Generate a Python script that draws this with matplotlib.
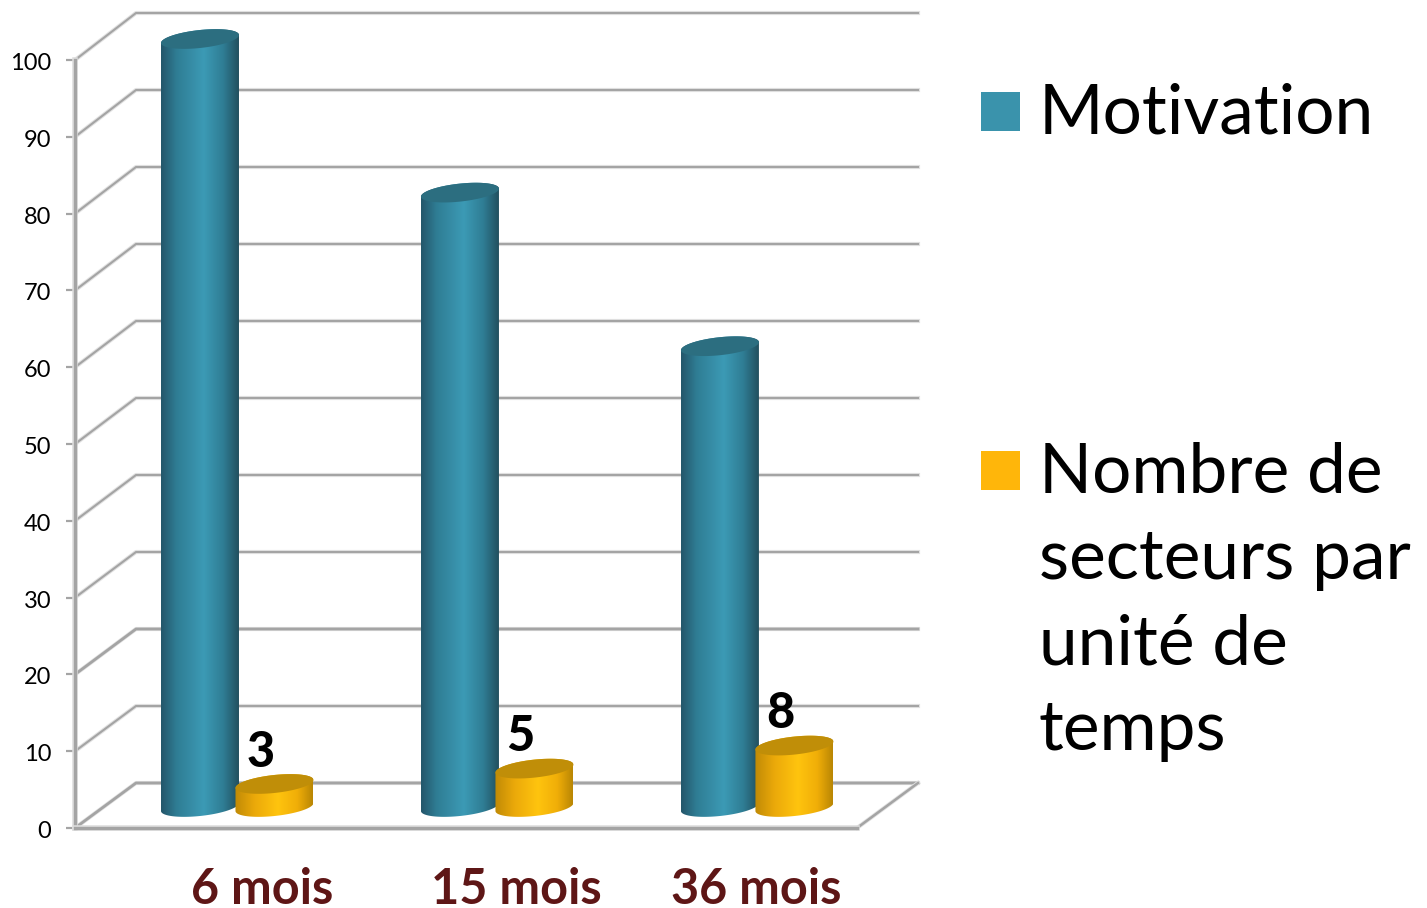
import numpy as np
import matplotlib
matplotlib.use("Agg")
import matplotlib.pyplot as plt
import matplotlib.patheffects as pe
from matplotlib.colors import LinearSegmentedColormap
from matplotlib.patches import Polygon, Rectangle
from matplotlib.transforms import ScaledTranslation

categories = ["6 mois", "15 mois", "36 mois"]
motivation = [100, 80, 60]
secteurs = [3, 5, 8]
y_ticks = [0, 10, 20, 30, 40, 50, 60, 70, 80, 90, 100]
legend_labels = ["Motivation", "Nombre de\nsecteurs par\nunité de\ntemps"]

W, H = 1427, 908
GRID = "#a4a4a4"
MAROON = "#5e1616"
PX_X = 1 / 260   # one category is 260 px wide
PX_Y = 100 / 768  # value 100 is 768 px high

plt.rcParams["font.family"] = ["Lato", "DejaVu Sans"]

fig = plt.figure(figsize=(W / 100, H / 100), dpi=100)
ax = fig.add_axes([75 / W, 1 - 828 / H, 782 / W, 768 / H])
ax.patch.set_visible(False)

# 3d look: depth of the floor, in data units
depth_x = 61 * PX_X
depth_y = 45 * PX_Y
lift = 21 * PX_Y
half_w = 39 * PX_X
half_h = 9 * PX_Y
tilt = 4 * PX_Y
halo = [pe.withStroke(linewidth=3, foreground="#e2e2e2")]

teal_map = LinearSegmentedColormap.from_list("teal", [(0, "#24566a"), (0.2, "#2f7d94"), (0.55, "#3c9ab5"), (0.8, "#2f7d94"), (1, "#22505f")])
gold_map = LinearSegmentedColormap.from_list("gold", [(0, "#c08a06"), (0.25, "#eba90a"), (0.55, "#ffc40e"), (0.8, "#f0ae08"), (1, "#b98604")])


def ellipse(cx, cy, t):
    return np.column_stack([cx + half_w * np.cos(t), cy + half_h * np.sin(t) + tilt * np.cos(t)])


def cylinder(cx, value, cmap, top_color, z):
    y0 = lift
    y1 = value + lift
    low = ellipse(cx, y0, np.linspace(np.pi, 2 * np.pi, 60))
    high = ellipse(cx, y1, np.linspace(0, np.pi, 60))
    body = Polygon(np.vstack([low, high]), closed=True, fc="none", ec="none", clip_on=False, zorder=z)
    ax.add_patch(body)
    grad = np.linspace(0, 1, 256).reshape(1, -1)
    im = ax.imshow(grad, extent=[cx - half_w, cx + half_w, y0 - 4, y1 + 4], aspect="auto", cmap=cmap, zorder=z, interpolation="bilinear")
    im.set_clip_box(fig.bbox)
    im.set_clip_path(body)
    cap = ellipse(cx, y1, np.linspace(0, 2 * np.pi, 120))
    ax.add_patch(Polygon(cap, closed=True, fc=top_color, ec="none", clip_on=False, zorder=z + 0.5))


# back wall and side wall lines
for v in y_ticks:
    lw = 2.0 if v in (0, 20) else 1.5
    back = v * 770 / 768 + depth_y
    ax.plot([0, depth_x, 3.008 + depth_x], [v, back, back], color=GRID, lw=lw, clip_on=False, zorder=1, path_effects=halo)
ax.plot([3.008, 3.008 + depth_x], [0, depth_y], color=GRID, lw=1.8, clip_on=False, zorder=1, path_effects=halo)

for i in range(len(categories)):
    group = i + 0.5 + depth_x / 2 + 1 * PX_X
    cylinder(group - half_w + 2.5 * PX_X, motivation[i], teal_map, "#2c6e80", 3)
    cylinder(group + half_w - 1 * PX_X, secteurs[i], gold_map, "#c08e08", 4)
    ax.annotate(str(secteurs[i]), (group + half_w, secteurs[i] + lift), xytext=(-11, 23), textcoords="offset points",
                ha="center", va="center", fontsize=35, fontweight="black", color="black", annotation_clip=False, zorder=6)

ax.set_xlim(0, 3.008)
ax.set_ylim(0, 100)
ax.set_yticks(y_ticks)
ax.tick_params(axis="y", length=6.5, width=1.6, color=GRID, labelsize=17, pad=10.5)
for lab in ax.get_yticklabels():
    lab.set_transform(lab.get_transform() + ScaledTranslation(0, -1.5 / 100, fig.dpi_scale_trans))
label_pos = [0.719, 1.696, 2.619]
ax.set_xticks(label_pos)
ax.set_xticklabels(categories, fontsize=35, fontweight="bold", color=MAROON)
ax.tick_params(axis="x", length=0, pad=28)
for s in ("top", "right"):
    ax.spines[s].set_visible(False)
for s in ("left", "bottom"):
    ax.spines[s].set_color(GRID)
    ax.spines[s].set_linewidth(2.4)
    ax.spines[s].set_path_effects([pe.withStroke(linewidth=4, foreground="#dddddd")])

# legend
legend_y = [92, 451]
legend_colors = ["#3a93ac", "#ffb60a"]
for y, c, lab in zip(legend_y, legend_colors, legend_labels):
    fig.add_artist(Rectangle((981 / W, 1 - (y + 39) / H), 39 / W, 39 / H, transform=fig.transFigure, fc=c, ec="none"))
    fig.text(1039 / W, 1 - (y - 9) / H, lab, fontsize=50, color="black", ha="left", va="top", linespacing=1.445)

fig.savefig("out.png", dpi=100)
